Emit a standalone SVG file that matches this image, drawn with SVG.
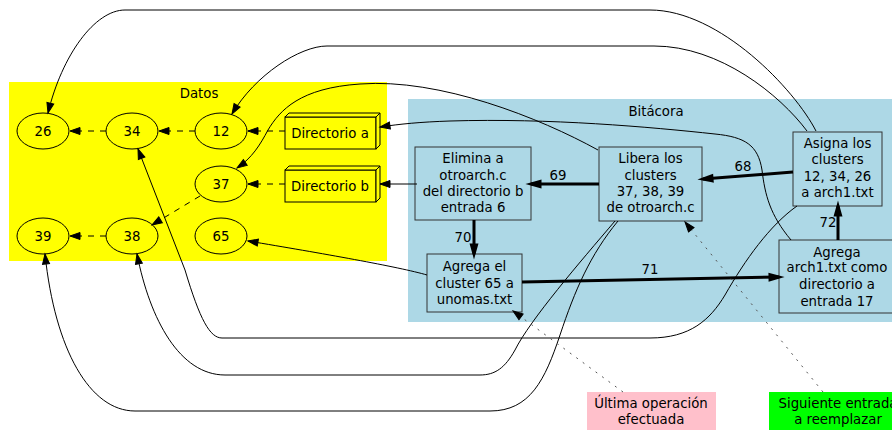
<svg xmlns="http://www.w3.org/2000/svg" width="892" height="430" viewBox="0 0 892 430">
<style>
text{font-family:"DejaVu Sans","Noto Sans",sans-serif;font-size:13.3px;fill:#000;text-anchor:middle}
.el{fill:#ffff00;stroke:#000;stroke-width:1}
.bx{fill:#add8e6;stroke:#333;stroke-width:1}
.d3{fill:#ffff00;stroke:#000;stroke-width:1}
.e{fill:none;stroke:#000;stroke-width:1}
.th{fill:none;stroke:#000;stroke-width:3}
.da{fill:none;stroke:#000;stroke-width:1;stroke-dasharray:6,6}
.dt{fill:none;stroke:#555;stroke-width:1;stroke-dasharray:2,6}
</style>
<defs>
<marker id="a" markerUnits="userSpaceOnUse" markerWidth="12" markerHeight="10" refX="10" refY="4" orient="auto" overflow="visible"><path d="M0,0.5 L10,4 L0,7.5 z" fill="#000" stroke="#000" stroke-width="1"/></marker>
<marker id="t" markerUnits="userSpaceOnUse" markerWidth="14" markerHeight="12" refX="10" refY="4" orient="auto" overflow="visible"><path d="M1,1.5 L10,4 L1,6.5 z" fill="#000" stroke="#000" stroke-width="3" stroke-linejoin="miter"/></marker>
</defs>
<rect width="892" height="430" fill="#fff"/>
<g id="cluster_datos">
<rect x="9" y="82" width="378" height="179" fill="#ffff00"/>
<text x="199" y="98">Datos</text>
</g>
<g id="cluster_bitacora">
<rect x="408" y="99" width="490" height="223" fill="#add8e6"/>
<text x="656" y="116">Bitácora</text>
</g>
<g id="n26"><ellipse class="el" cx="43" cy="131" rx="26" ry="18"/><text x="43" y="136">26</text></g>
<g id="n34"><ellipse class="el" cx="132" cy="131" rx="26" ry="18"/><text x="132" y="136">34</text></g>
<g id="n12"><ellipse class="el" cx="221" cy="131" rx="26" ry="18"/><text x="221" y="136">12</text></g>
<g id="n37"><ellipse class="el" cx="221" cy="184" rx="26" ry="18"/><text x="221" y="189">37</text></g>
<g id="n39"><ellipse class="el" cx="43" cy="236" rx="26" ry="18"/><text x="43" y="241">39</text></g>
<g id="n38"><ellipse class="el" cx="132" cy="236" rx="26" ry="18"/><text x="132" y="241">38</text></g>
<g id="n65"><ellipse class="el" cx="221" cy="236" rx="26" ry="18"/><text x="221" y="241">65</text></g>
<g id="dira">
<rect class="d3" x="285" y="117" width="91" height="32"/>
<path class="d3" d="M285,117 L289,113 L380,113 L376,117 z"/>
<path class="d3" d="M376,117 L380,113 L380,145 L376,149 z"/>
<text x="330" y="138">Directorio a</text>
</g>
<g id="dirb">
<rect class="d3" x="285" y="170" width="91" height="32"/>
<path class="d3" d="M285,170 L289,166 L380,166 L376,170 z"/>
<path class="d3" d="M376,170 L380,166 L380,198 L376,202 z"/>
<text x="330" y="191">Directorio b</text>
</g>
<g id="elimina"><rect class="bx" x="415" y="147" width="116" height="73"/>
<text x="473" y="163">Elimina a</text><text x="473" y="180">otroarch.c</text><text x="473" y="196">del directorio b</text><text x="473" y="212">entrada 6</text></g>
<g id="libera"><rect class="bx" x="599" y="147" width="103" height="74"/>
<text x="650.5" y="163">Libera los</text><text x="650.5" y="180">clusters</text><text x="650.5" y="196">37, 38, 39</text><text x="650.5" y="212">de otroarch.c</text></g>
<g id="asigna"><rect class="bx" x="793" y="132" width="89" height="74"/>
<text x="837.5" y="148">Asigna los</text><text x="837.5" y="164">clusters</text><text x="837.5" y="181">12, 34, 26</text><text x="837.5" y="197">a arch1.txt</text></g>
<g id="agregael"><rect class="bx" x="427" y="254" width="95" height="58"/>
<text x="474.5" y="271">Agrega el</text><text x="474.5" y="288">cluster 65 a</text><text x="474.5" y="304">unomas.txt</text></g>
<g id="agregaarch"><rect class="bx" x="779" y="240" width="118" height="73"/>
<text x="837" y="257">Agrega</text><text x="837" y="272">arch1.txt como</text><text x="837" y="289">directorio a</text><text x="837" y="306">entrada 17</text></g>
<g id="ultima"><rect x="587" y="392" width="129" height="40" fill="#ffc0cb"/>
<text x="651" y="408">Última operación</text><text x="651" y="424">efectuada</text></g>
<g id="siguiente"><rect x="769" y="392" width="140" height="40" fill="#00ff00"/>
<text x="838" y="408">Siguiente entrada</text><text x="838" y="424">a reemplazar</text></g>
<g id="connectors">
<path class="da" d="M106,131 L70,131" marker-end="url(#a)"/>
<path class="da" d="M195,131 L159,131" marker-end="url(#a)"/>
<path class="da" d="M285,131 L248,131" marker-end="url(#a)"/>
<path class="da" d="M285,184 L248,184" marker-end="url(#a)"/>
<path class="da" d="M200,196 L152,225" marker-end="url(#a)"/>
<path class="da" d="M106,236 L70,236" marker-end="url(#a)"/>
<path class="th" d="M793,172 L703,179" marker-end="url(#t)"/>
<path class="th" d="M599,184 L531,184" marker-end="url(#t)"/>
<path class="th" d="M474,220 L474,254" marker-end="url(#t)"/>
<path class="th" d="M522,282 L779,277" marker-end="url(#t)"/>
<path class="th" d="M838,240 L838,206" marker-end="url(#t)"/>
<text x="743" y="171">68</text>
<text x="558" y="180">69</text>
<text x="463" y="242">70</text>
<text x="650" y="274">71</text>
<text x="828" y="227">72</text>
<path class="e" d="M816,131 C795,90 720,10 650,10 L125,10 C95,10 62,55 48,113" marker-end="url(#a)"/>
<path class="e" d="M807,131 C780,95 720,46 654,46 L327,46 C300,46 255,75 232,114" marker-end="url(#a)"/>
<path class="e" d="M598,150 C540,118 440,78 360,84 C300,88 280,110 268,130 C260,145 252,158 237,168" marker-end="url(#a)"/>
<path class="e" d="M615,221 C580,262 530,320 515,350 C505,368 495,375 480,375 L225,375 C180,375 150,320 137,254" marker-end="url(#a)"/>
<path class="e" d="M618,221 C590,255 575,290 560,335 C545,380 530,411 490,411 L135,411 C90,411 55,350 45,254" marker-end="url(#a)"/>
<path class="e" d="M797,206 C770,225 745,260 725,295 C710,320 690,338 650,338 L222,338 C210,338 200,320 185,270 L138,149" marker-end="url(#a)"/>
<path class="e" d="M791,240 C770,215 765,195 762,170 C758,145 745,137 715,134 C650,127 550,118 450,121 C420,122 400,124 380,127" marker-end="url(#a)"/>
<path class="e" d="M417,184 L380,184" marker-end="url(#a)"/>
<path class="e" d="M427,275 C400,267 320,253 248,241" marker-end="url(#a)"/>
<path class="dt" d="M623,392 L513,311" marker-end="url(#a)"/>
<path class="dt" d="M823,392 L685,222" marker-end="url(#a)"/>
</g>
</svg>
